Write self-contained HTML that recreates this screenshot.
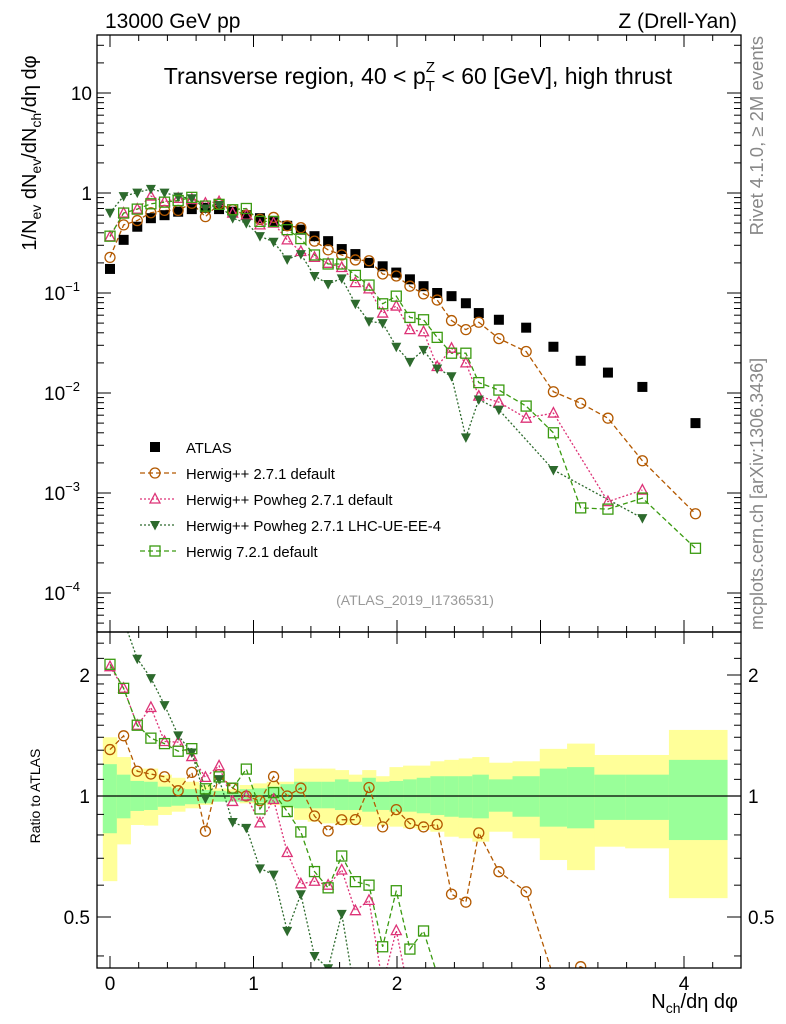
<!DOCTYPE html>
<html><head><meta charset="utf-8"><style>
html,body{margin:0;padding:0;background:#fff;overflow:hidden;width:786px;height:1024px;}
svg{display:block;font-family:"Liberation Sans",sans-serif;}
</style></head><body>
<svg id="c" width="786" height="1024" viewBox="0 0 786 1024">
<defs>
<clipPath id="cm"><rect x="97" y="35" width="644" height="597"/></clipPath>
<clipPath id="cr"><rect x="97" y="632" width="644" height="336"/></clipPath>
</defs>
<text x="105" y="28" font-size="21">13000 GeV pp</text>
<text x="737" y="28" font-size="21" text-anchor="end">Z (Drell-Yan)</text>
<g id="bands" clip-path="url(#cr)"></g>
<g id="mainMarks" clip-path="url(#cm)"></g>
<g id="ratioMarks" clip-path="url(#cr)"></g>
<g id="axes"></g>
<text x="418" y="84" font-size="23" text-anchor="middle">Transverse region, 40 &lt; p<tspan font-size="15" dy="7">T</tspan><tspan font-size="15" dx="-9" dy="-19">Z</tspan><tspan dy="12"> &lt; 60 [GeV], high thrust</tspan></text>
<text x="415" y="605" font-size="14" fill="#999" text-anchor="middle">(ATLAS_2019_I1736531)</text>
<text transform="translate(763,36) rotate(-90)" font-size="18.5" fill="#888" text-anchor="end">Rivet 4.1.0, ≥ 2M events</text>
<text transform="translate(763,630) rotate(-90)" font-size="18" fill="#888">mcplots.cern.ch [arXiv:1306.3436]</text>
<text transform="translate(36,153) rotate(-90)" font-size="20" text-anchor="middle">1/N<tspan font-size="14" dy="5">ev</tspan><tspan dy="-5"> dN</tspan><tspan font-size="14" dy="5">ev</tspan><tspan dy="-5">/dN</tspan><tspan font-size="14" dy="5">ch</tspan><tspan dy="-5">/dη dφ</tspan></text>
<text transform="translate(40,796) rotate(-90)" font-size="14" text-anchor="middle">Ratio to ATLAS</text>
<text x="738" y="1008" font-size="20" text-anchor="end">N<tspan font-size="14" dy="5">ch</tspan><tspan dy="-5">/dη dφ</tspan></text>
<g id="legend"></g>
</svg>
<script>
const xs=[0,0.095,0.19,0.285,0.38,0.475,0.57,0.665,0.76,0.855,0.95,1.045,1.14,1.235,1.33,1.425,1.52,1.615,1.71,1.805,1.9,1.995,2.09,2.185,2.28,2.38,2.48,2.57,2.71,2.90,3.09,3.28,3.47,3.71,4.08];
const atlas=[0.174,0.34,0.46,0.56,0.60,0.65,0.69,0.71,0.69,0.65,0.60,0.56,0.51,0.47,0.43,0.37,0.33,0.275,0.245,0.20,0.185,0.16,0.137,0.117,0.10,0.093,0.079,0.063,0.054,0.045,0.029,0.021,0.016,0.0115,0.005];
const herwigpp=[0.227,0.48,0.53,0.635,0.67,0.67,0.79,0.58,0.78,0.68,0.60,0.545,0.57,0.47,0.45,0.33,0.27,0.24,0.214,0.21,0.155,0.148,0.117,0.098,0.085,0.053,0.043,0.051,0.035,0.026,0.0103,0.0079,0.0056,0.0021,0.00062];
const powheg=[0.365,0.63,0.69,0.93,0.82,0.885,0.865,0.79,0.82,0.63,0.60,0.48,0.50,0.34,0.26,0.227,0.198,0.18,0.127,0.11,0.063,0.074,0.043,0.041,0.0184,0.028,0.020,0.0093,0.0081,0.0056,0.0063,null,0.00082,0.00107,null];
const lhcue=[0.635,0.93,1.01,1.10,1.01,0.92,0.885,0.70,0.76,0.56,0.50,0.37,0.325,0.217,0.245,0.148,0.123,0.14,0.078,0.052,0.05,0.029,0.0205,0.027,0.0176,0.0147,0.0036,0.0086,0.0068,null,0.0017,null,null,0.00056,null];
const herwig7=[0.37,0.63,0.69,0.78,0.81,0.84,0.905,0.74,0.77,0.68,0.70,0.52,0.52,0.43,0.35,0.24,0.195,0.195,0.15,0.12,0.078,0.093,0.057,0.054,0.036,0.025,0.025,0.0127,0.0107,0.0074,0.0040,0.00071,0.00069,0.00089,0.00028];
const statUp=[1.20,1.13,1.09,1.085,1.055,1.045,1.04,1.035,1.03,1.025,1.04,1.045,1.055,1.07,1.085,1.085,1.085,1.10,1.085,1.11,1.085,1.09,1.10,1.11,1.12,1.12,1.12,1.13,1.10,1.12,1.17,1.18,1.13,1.13,1.23];
const statDn=[0.808,0.88,0.918,0.923,0.94,0.946,0.954,0.959,0.968,0.968,0.968,0.964,0.959,0.94,0.932,0.932,0.932,0.923,0.923,0.914,0.923,0.914,0.914,0.906,0.897,0.888,0.883,0.88,0.914,0.888,0.839,0.831,0.872,0.872,0.777];
const totUp=[1.40,1.25,1.17,1.17,1.13,1.11,1.085,1.065,1.045,1.04,1.065,1.075,1.085,1.085,1.17,1.17,1.17,1.16,1.13,1.16,1.12,1.18,1.19,1.19,1.22,1.23,1.24,1.25,1.21,1.22,1.31,1.35,1.265,1.265,1.46];
const totDn=[0.614,0.758,0.847,0.844,0.897,0.914,0.932,0.95,0.973,0.973,0.959,0.959,0.95,0.935,0.872,0.863,0.855,0.847,0.847,0.839,0.847,0.839,0.831,0.823,0.815,0.792,0.785,0.77,0.815,0.785,0.693,0.654,0.748,0.741,0.557];
const xTicks=[0,1,2,3,4];
const mainTicks=[-4,-3,-2,-1,0,1];
const mainTickLabels=["10","10","10","10","1","10"];
const mainTickExp=["−4","−3","−2","−1","",""];
const ratioTicks=[0.5,1,2];
const ratioTickLabels=["0.5","1","2"];

const NS="http://www.w3.org/2000/svg";
const X=v=>110+143.5*v;
const Ym=v=>193-100*Math.log10(v);
const Yr=v=>796-121*Math.log2(v);
function mk(tag,attrs,parent){const e=document.createElementNS(NS,tag);for(const k in attrs)e.setAttribute(k,attrs[k]);parent.appendChild(e);return e;}

const bands=document.getElementById('bands');
for(let i=0;i<xs.length;i++){
  const x0=i===0?-0.05:(xs[i-1]+xs[i])/2;
  const x1=i===xs.length-1?4.3:(xs[i]+xs[i+1])/2;
  const ry=mk('rect',{x:X(x0),y:Yr(totUp[i]),width:X(x1)-X(x0)+0.5,height:Yr(totDn[i])-Yr(totUp[i]),fill:'#ffff99'},bands);
  
  
  const rg=mk('rect',{x:X(x0),y:Yr(statUp[i]),width:X(x1)-X(x0)+0.5,height:Yr(statDn[i])-Yr(statUp[i]),fill:'#99ff99'},bands);
  
  
}
mk('line',{x1:97,x2:741,y1:796,y2:796,stroke:'#000','stroke-width':1.3},bands);

function marker(type,color,cx,cy,g,name){
  let e;
  if(type==='sq') e=mk('rect',{x:cx-5,y:cy-5,width:10,height:10,fill:'#000'},g);
  else if(type==='circ') e=mk('circle',{cx,cy,r:5,fill:'none',stroke:color,'stroke-width':1.3},g);
  else if(type==='tri') e=mk('polygon',{points:`${cx},${cy-5.5} ${cx-5},${cy+4} ${cx+5},${cy+4}`,fill:'none',stroke:color,'stroke-width':1.3},g);
  else if(type==='dtri') e=mk('polygon',{points:`${cx},${cy+5.5} ${cx-5},${cy-4} ${cx+5},${cy-4}`,fill:color},g);
  else if(type==='osq') e=mk('rect',{x:cx-5,y:cy-5,width:10,height:10,fill:'none',stroke:color,'stroke-width':1.3},g);
  
  
}
const series=[
 {d:herwigpp,c:'#b35900',t:'circ',dash:'5,3',n:'herwigpp-271'},
 {d:powheg,c:'#dd3377',t:'tri',dash:'2,2',n:'herwigpp-powheg-271'},
 {d:lhcue,c:'#2d6a2d',t:'dtri',dash:'2,2',n:'herwigpp-powheg-lhc-ue'},
 {d:herwig7,c:'#3a9a10',t:'osq',dash:'5,3',n:'herwig-721'}
];
const mm=document.getElementById('mainMarks'), rm=document.getElementById('ratioMarks');
series.forEach(s=>{
  let pm=[],pr=[];
  s.d.forEach((v,i)=>{if(v!=null){pm.push(X(xs[i])+','+Ym(v));pr.push(X(xs[i])+','+Yr(v/atlas[i]));}});
  const l1=mk('polyline',{points:pm.join(' '),fill:'none',stroke:s.c,'stroke-width':1.3,'stroke-dasharray':s.dash},mm);
  
  
  const l2=mk('polyline',{points:pr.join(' '),fill:'none',stroke:s.c,'stroke-width':1.3,'stroke-dasharray':s.dash},rm);
  
  
});
atlas.forEach((v,i)=>marker('sq','#000',X(xs[i]),Ym(v),mm,'atlas-point'));
series.forEach(s=>{
  s.d.forEach((v,i)=>{if(v!=null){marker(s.t,s.c,X(xs[i]),Ym(v),mm,s.n+'-point');marker(s.t,s.c,X(xs[i]),Yr(v/atlas[i]),rm,s.n+'-ratio-point');}});
});

const ax=document.getElementById('axes');
mk('rect',{x:97,y:35,width:644,height:597,fill:'none',stroke:'#000','stroke-width':1.3},ax);
mk('rect',{x:97,y:632,width:644,height:336,fill:'none',stroke:'#000','stroke-width':1.3},ax);
for(let v=-0.0;v<=4.35;v+=0.2){
  const maj=Math.abs(v-Math.round(v))<1e-6; const L=maj?12:6;
  [[35,1],[632,-1],[632,1],[968,-1]].forEach(([y,d])=>mk('line',{x1:X(v),x2:X(v),y1:y,y2:y+d*L,stroke:'#000'},ax));
}
xTicks.forEach(v=>{const t=mk('text',{x:X(v),y:990,'font-size':19,'text-anchor':'middle'},ax);t.textContent=v;
  });
for(let e=-5;e<=1;e++){for(let m=1;m<10;m++){const v=m*Math.pow(10,e);const y=Ym(v);if(y<35||y>632)continue;const L=m===1?14:7;
  mk('line',{x1:97,x2:97+L,y1:y,y2:y,stroke:'#000'},ax);mk('line',{x1:741,x2:741-L,y1:y,y2:y,stroke:'#000'},ax);}}
mainTicks.forEach((e,i)=>{const t=mk('text',{x:mainTickExp[i]?80:92,y:Ym(Math.pow(10,e))+7,'font-size':19,'text-anchor':'end'},ax);
  t.textContent=mainTickLabels[i];
  if(mainTickExp[i]){const s=document.createElementNS(NS,'tspan');s.setAttribute('font-size','13');s.setAttribute('dy','-9');s.textContent=mainTickExp[i];t.appendChild(s);}
  });
[0.4,0.5,0.6,0.7,0.8,0.9,1,1.1,1.2,1.3,1.4,1.5,1.6,1.7,1.8,1.9,2,2.2,2.4].forEach(v=>{const y=Yr(v);const L=(v===0.5||v===1||v===2)?14:7;
  mk('line',{x1:97,x2:97+L,y1:y,y2:y,stroke:'#000'},ax);mk('line',{x1:741,x2:741-L,y1:y,y2:y,stroke:'#000'},ax);});
ratioTicks.forEach((v,i)=>{
  const t=mk('text',{x:90,y:Yr(v)+7,'font-size':19,'text-anchor':'end'},ax);t.textContent=ratioTickLabels[i];
  
  const t2=mk('text',{x:748,y:Yr(v)+7,'font-size':19},ax);t2.textContent=ratioTickLabels[i];
  });

const lg=document.getElementById('legend');
const legItems=[{t:'sq',c:'#000',n:'ATLAS',dash:null},
 {t:'circ',c:'#b35900',n:'Herwig++ 2.7.1 default',dash:'5,3'},
 {t:'tri',c:'#dd3377',n:'Herwig++ Powheg 2.7.1 default',dash:'2,2'},
 {t:'dtri',c:'#2d6a2d',n:'Herwig++ Powheg 2.7.1 LHC-UE-EE-4',dash:'2,2'},
 {t:'osq',c:'#3a9a10',n:'Herwig 7.2.1 default',dash:'5,3'}];
legItems.forEach((it,i)=>{const y=447+26*i;
  if(it.dash)mk('line',{x1:140,x2:176,y1:y,y2:y,stroke:it.c,'stroke-width':1.3,'stroke-dasharray':it.dash},lg);
  marker(it.t,it.c,155,y,lg,'legend-marker');
  const t=mk('text',{x:186,y:y+6,'font-size':14.8},lg);t.textContent=it.n;
  });
</script>
</body></html>
